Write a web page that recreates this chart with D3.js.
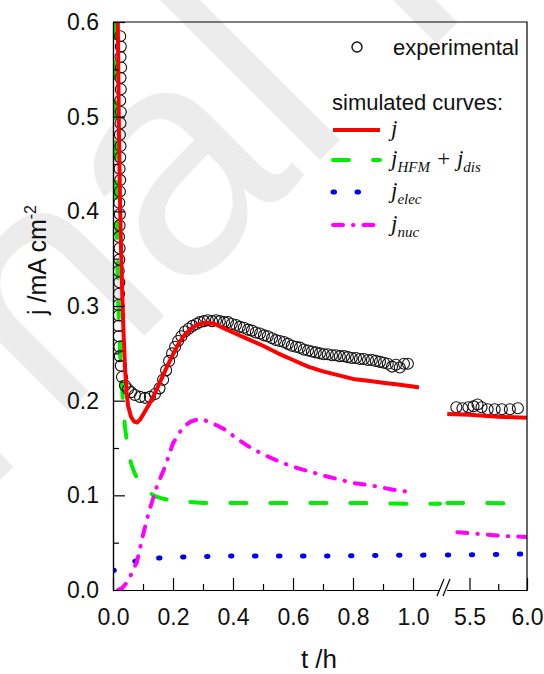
<!DOCTYPE html>
<html>
<head>
<meta charset="utf-8">
<script src="https://cdn.jsdelivr.net/npm/d3@7/dist/d3.min.js"></script>
<style>
  body { margin: 0; background: #fff; }
  svg { display: block; font-family: Arial, "Liberation Sans", sans-serif; }
</style>
</head>
<body>
<script>
// ---- data ----
// experimental points, first part (0 - 1 h)
var expT1 = [0.024,0.026,0.025,0.027,0.025,0.026,0.024,0.026,0.025,0.023,0.025,0.024,0.022,0.024,0.023,0.021,
             0.023,0.022,0.020,0.022,0.021,0.019,0.021,0.020,0.018,0.019,0.018,0.019,0.021,0.023,0.026,
             0.03,0.04,0.05,0.06,0.073,0.09,0.107,0.123,0.14,0.155,0.167,0.177,0.187,0.197,0.207,0.217,0.228,
             0.24,0.252,0.265,0.278,0.29,0.303,0.316,0.33,0.343,0.356,0.37,0.383,0.396,0.41,0.423,0.436,0.45,
             0.463,0.476,0.49,0.503,0.516,0.53,0.543,0.556,0.57,0.583,0.596,0.61,0.623,0.636,0.65,0.663,0.676,
             0.69,0.703,0.716,0.73,0.743,0.756,0.77,0.783,0.796,0.81,0.823,0.836,0.85,0.863,0.876,0.89,0.903,
             0.916,0.93,0.943,0.956,0.97,0.983];
var expJ1 = [0.585,0.574,0.563,0.552,0.541,0.529,0.517,0.505,0.493,0.481,0.469,0.457,0.445,0.433,0.421,0.409,
             0.397,0.385,0.373,0.361,0.349,0.337,0.325,0.313,0.301,0.29,0.279,0.268,0.257,0.247,0.237,
             0.225,0.216,0.212,0.209,0.206,0.204,0.203,0.204,0.207,0.213,0.222,0.232,0.242,0.25,0.257,0.263,0.268,
             0.273,0.276,0.279,0.281,0.283,0.284,0.285,0.284,0.285,0.284,0.283,0.283,0.281,0.28,0.278,0.277,0.275,
             0.274,0.272,0.271,0.269,0.268,0.266,0.264,0.263,0.262,0.26,0.258,0.257,0.256,0.254,0.253,0.252,0.251,
             0.25,0.249,0.249,0.248,0.248,0.247,0.247,0.246,0.245,0.245,0.244,0.244,0.243,0.243,0.242,0.241,0.24,
             0.239,0.236,0.238,0.235,0.239,0.239];
// experimental points, second part (5.3 - 6 h)
var expT2 = [5.386,5.439,5.491,5.535,5.57,5.605,5.658,5.719,5.781,5.851,5.921];
var expJ2 = [0.193,0.192,0.193,0.194,0.196,0.193,0.191,0.191,0.191,0.191,0.192];

// simulated j (total)
var jT1 = [0.016,0.02,0.024,0.028,0.032,0.036,0.04,0.045,0.05,0.06,0.07,0.08,0.09,0.1,0.12,0.14,0.16,0.18,0.2,
           0.22,0.24,0.26,0.28,0.3,0.32,0.34,0.36,0.4,0.45,0.5,0.55,0.6,0.65,0.7,0.75,0.8,0.85,0.9,0.95,1.0,1.02];
var jV1 = [0.6,0.48,0.4,0.345,0.3,0.265,0.235,0.21,0.195,0.183,0.178,0.177,0.18,0.185,0.196,0.208,0.222,0.236,0.249,
           0.261,0.27,0.276,0.28,0.282,0.282,0.281,0.278,0.272,0.265,0.258,0.25,0.243,0.236,0.231,0.227,0.223,0.221,
           0.219,0.217,0.215,0.214];
var jT2 = [5.307,5.5,5.75,6.0];
var jV2 = [0.186,0.185,0.183,0.182];

// simulated j_HFM + j_dis
var hfmT1 = [0.004,0.01,0.017,0.025,0.035,0.04,0.05,0.06,0.07,0.08,0.1,0.12,0.14,0.16,0.2,0.25,0.3,0.5,0.8,1.0,1.09];
var hfmV1 = [0.6,0.43,0.306,0.24,0.19,0.172,0.148,0.134,0.125,0.118,0.109,0.103,0.099,0.097,0.094,0.093,0.092,
             0.092,0.092,0.091,0.091];
var hfmT2 = [5.307,5.6,6.0];
var hfmV2 = [0.092,0.092,0.091];

// simulated j_elec
var elecT1 = [0,0.04,0.08,0.12,0.16,0.24,0.4,0.7,1.1];
var elecV1 = [0.02,0.027,0.031,0.033,0.034,0.035,0.036,0.036,0.037];
var elecT2 = [5.307,6.0];
var elecV2 = [0.037,0.038];

// simulated j_nuc
var nucT1 = [0.017,0.03,0.047,0.06,0.08,0.1,0.12,0.147,0.173,0.2,0.233,0.26,0.28,0.3,0.333,0.37,0.413,0.45,0.49,
             0.53,0.567,0.613,0.7,0.8,0.85,0.9,0.95,0.98];
var nucV1 = [0,0.002,0.008,0.016,0.03,0.058,0.083,0.11,0.13,0.155,0.172,0.178,0.18,0.18,0.176,0.17,0.16,0.152,
             0.145,0.139,0.134,0.129,0.121,0.113,0.111,0.108,0.105,0.104];
var nucT2 = [5.395,5.6,5.8,6.0];
var nucV2 = [0.061,0.059,0.057,0.056];

// ticks
var xMajor1 = [0, 0.2, 0.4, 0.6, 0.8, 1.0];
var xMinor1 = [0.1, 0.3, 0.5, 0.7, 0.9];
var xMajor2 = [5.5, 6.0];
var xMinor2 = [5.75];
var yMajor = [0, 0.1, 0.2, 0.3, 0.4, 0.5, 0.6];
var yMinor = [0.05, 0.15, 0.25, 0.35, 0.45, 0.55];

// ---- drawing ----
var svg = d3.select("body").append("svg")
            .attr("width", 544)
            .attr("height", 674);

// faint watermark behind the chart
var wmSize = 320;
svg.append("text")
   .attr("x", -3.169 * wmSize)
   .attr("y", 0)
   .attr("transform", "translate(330,150) rotate(-45)")
   .attr("font-size", wmSize)
   .attr("fill", "#ececec")
   .text("Journal Pre-proof");

var pL = 113, pR = 527, pT = 22, pB = 590, brk = 443;

var x1 = d3.scaleLinear().domain([0, 1.1]).range([pL, brk]);
var x2 = d3.scaleLinear().domain([5.27, 6.0]).range([brk, pR]);
var y = d3.scaleLinear().domain([0, 0.6]).range([pB, pT]);

var defs = svg.append("defs");
defs.append("clipPath").attr("id", "c1").append("rect")
    .attr("x", pL).attr("y", pT).attr("width", brk - pL).attr("height", pB - pT);
defs.append("clipPath").attr("id", "c2").append("rect")
    .attr("x", brk).attr("y", pT).attr("width", pR - brk).attr("height", pB - pT);

var series = [
  {t1: hfmT1, v1: hfmV1, t2: hfmT2, v2: hfmV2, color: "#00ee00", width: 4, dash: "16,24", cap: "round"},
  {t1: elecT1, v1: elecV1, t2: elecT2, v2: elecV2, color: "#0000ee", width: 5, dash: "1.5,22.5", cap: "round"},
  {t1: nucT1, v1: nucV1, t2: nucT2, v2: nucV2, color: "#ff00ff", width: 4, dash: "10,10,0.5,10", cap: "round"}
];

function drawLine(g, xs, ts, vs, s) {
  var line = d3.line().x(function (d) { return xs(d[0]); }).y(function (d) { return y(d[1]); });
  g.append("path")
   .attr("d", line(d3.zip(ts, vs)))
   .attr("fill", "none")
   .attr("stroke", s.color)
   .attr("stroke-width", s.width)
   .attr("stroke-dasharray", s.dash)
   .attr("stroke-linecap", s.cap)
   .attr("stroke-linejoin", "round");
}

var g1 = svg.append("g").attr("clip-path", "url(#c1)");
var g2 = svg.append("g").attr("clip-path", "url(#c2)");

series.forEach(function (s) {
  drawLine(g1, x1, s.t1, s.v1, s);
  drawLine(g2, x2, s.t2, s.v2, s);
});

// experimental circles
g1.selectAll("circle")
  .data(d3.zip(expT1, expJ1))
  .enter().append("circle")
  .attr("cx", function (d) { return x1(d[0]); })
  .attr("cy", function (d) { return y(d[1]); })
  .attr("r", 5.5)
  .attr("fill", "none")
  .attr("stroke", "#111")
  .attr("stroke-width", 1.1);

g2.selectAll("circle")
  .data(d3.zip(expT2, expJ2))
  .enter().append("circle")
  .attr("cx", function (d) { return x2(d[0]); })
  .attr("cy", function (d) { return y(d[1]); })
  .attr("r", 5.5)
  .attr("fill", "none")
  .attr("stroke", "#111")
  .attr("stroke-width", 1.1);

// total j on top
var red = {color: "#ff0000", width: 4, dash: null, cap: "butt"};
drawLine(g1, x1, jT1, jV1, red);
drawLine(g2, x2, jT2, jV2, red);

// ---- axes ----
var fmt = d3.format(".1f");

function styleAxis(g) {
  g.selectAll("text").attr("font-size", 23).attr("fill", "#111").attr("font-family", "Arial, 'Liberation Sans'");
  g.selectAll("line").attr("stroke", "#000").attr("stroke-width", 1.2);
  g.select(".domain").attr("stroke", "#000").attr("stroke-width", 1.2);
}

svg.append("g").attr("transform", "translate(0," + pB + ")")
   .call(d3.axisBottom(x1).tickValues(xMajor1).tickFormat(fmt).tickSizeInner(-12).tickSizeOuter(0).tickPadding(19))
   .call(styleAxis);
svg.append("g").attr("transform", "translate(0," + pB + ")")
   .call(d3.axisBottom(x1).tickValues(xMinor1).tickFormat("").tickSizeInner(-6).tickSizeOuter(0))
   .call(styleAxis);
svg.append("g").attr("transform", "translate(0," + pB + ")")
   .call(d3.axisBottom(x2).tickValues(xMajor2).tickFormat(fmt).tickSizeInner(-12).tickSizeOuter(0).tickPadding(19))
   .call(styleAxis);
svg.append("g").attr("transform", "translate(0," + pB + ")")
   .call(d3.axisBottom(x2).tickValues(xMinor2).tickFormat("").tickSizeInner(-6).tickSizeOuter(0))
   .call(styleAxis);

svg.append("g").attr("transform", "translate(" + pL + ",0)")
   .call(d3.axisLeft(y).tickValues(yMajor).tickFormat(fmt).tickSizeInner(-12).tickSizeOuter(0).tickPadding(14))
   .call(styleAxis);
svg.append("g").attr("transform", "translate(" + pL + ",0)")
   .call(d3.axisLeft(y).tickValues(yMinor).tickFormat("").tickSizeInner(-6).tickSizeOuter(0))
   .call(styleAxis);

// frame top and right
svg.append("path")
   .attr("d", "M" + pL + "," + pT + "H" + pR + "V" + pB)
   .attr("fill", "none").attr("stroke", "#000").attr("stroke-width", 1.2);

// axis break marks
svg.append("rect").attr("x", brk - 3).attr("y", pB - 3).attr("width", 7).attr("height", 6).attr("fill", "#fff");
svg.append("line").attr("x1", brk - 6).attr("y1", pB + 6).attr("x2", brk + 1).attr("y2", pB - 11)
   .attr("stroke", "#000").attr("stroke-width", 1.2);
svg.append("line").attr("x1", brk).attr("y1", pB + 6).attr("x2", brk + 7).attr("y2", pB - 11)
   .attr("stroke", "#000").attr("stroke-width", 1.2);

// axis titles
svg.append("text")
   .attr("x", 319).attr("y", 668)
   .attr("text-anchor", "middle")
   .attr("font-size", 26).attr("fill", "#111")
   .text("t /h");

var yt = svg.append("text")
   .attr("transform", "translate(46,260) rotate(-90)")
   .attr("text-anchor", "middle")
   .attr("font-size", 25).attr("fill", "#111");
yt.append("tspan").text("j /mA cm");
yt.append("tspan").attr("dy", -10).attr("font-size", 16).text("-2");

// ---- legend ----
svg.append("circle").attr("cx", 357).attr("cy", 47).attr("r", 5)
   .attr("fill", "none").attr("stroke", "#111").attr("stroke-width", 1.4);
svg.append("text").attr("x", 393).attr("y", 55).attr("font-size", 22).attr("fill", "#111").text("experimental");
svg.append("text").attr("x", 332).attr("y", 110).attr("font-size", 22).attr("fill", "#111").text("simulated curves:");

var legendRows = [
  {y: 130, style: red, parts: [["j", 0]]},
  {y: 160, style: series[0], parts: [["j", 0], ["HFM", 1], [" + ", 0], ["j", 0], ["dis", 1]]},
  {y: 192, style: series[1], parts: [["j", 0], ["elec", 1]]},
  {y: 225, style: series[2], parts: [["j", 0], ["nuc", 1]]}
];

legendRows.forEach(function (row) {
  svg.append("line")
     .attr("x1", 333).attr("x2", 380).attr("y1", row.y).attr("y2", row.y)
     .attr("stroke", row.style.color).attr("stroke-width", row.style.width)
     .attr("stroke-dasharray", row.style.dash)
     .attr("stroke-linecap", row.style.cap);
  var t = svg.append("text").attr("x", 391).attr("y", row.y + 6)
             .attr("font-family", "'Liberation Serif', 'Times New Roman', serif")
             .attr("font-style", "italic").attr("font-size", 23).attr("fill", "#111");
  var sub = false;
  row.parts.forEach(function (p) {
    var ts = t.append("tspan").text(p[0]);
    if (p[1] && !sub) { ts.attr("dy", 6).attr("font-size", 15); sub = true; }
    else if (p[1]) { ts.attr("font-size", 15); }
    else if (sub) { ts.attr("dy", -6); sub = false; }
  });
});
</script>
</body>
</html>
